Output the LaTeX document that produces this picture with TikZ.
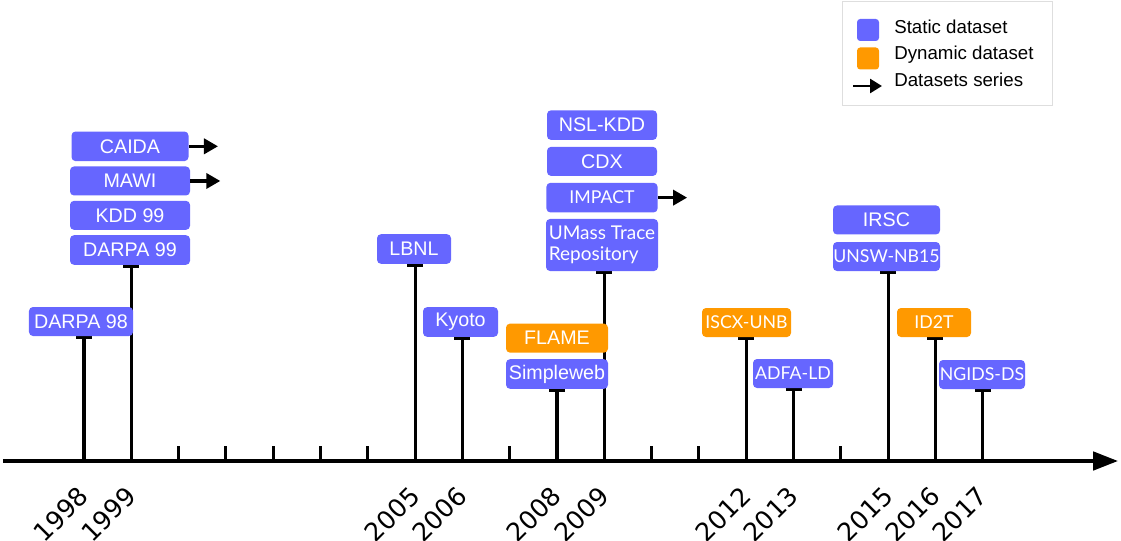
\documentclass[tikz,border=0pt]{standalone}
\usepackage{fontspec}
\setmainfont{Liberation Sans}
\newfontfamily\latofont{Lato}
\newfontfamily\yearfont{DejaVu Sans}
\usepackage{tikz}
\usetikzlibrary{positioning,arrows.meta,backgrounds}
\definecolor{staticblue}{HTML}{6666FF}
\definecolor{dynorange}{HTML}{FF9900}

\begin{document}
\begin{tikzpicture}[
  ds/.style={fill=staticblue, text=white, rounded corners=0.1cm, inner sep=0pt,
    minimum height=0.74cm, font=\fontsize{14}{15}\selectfont},
  dyn/.style={ds, fill=dynorange},
  lato/.style={font=\latofont\fontsize{12.6}{15}\selectfont},
  stem/.style={line width=2.2pt, -{Bar[width=0.4cm]}},
  minortick/.style={line width=2.2pt},
  series/.style={line width=2.2pt, -{Triangle[length=0.35cm,width=0.38cm]}},
  yearlbl/.style={font=\yearfont\fontsize{18}{20}\selectfont, rotate=45, anchor=east, inner sep=0pt},
  legtext/.style={font=\fontsize{13.3}{15}\selectfont, inner sep=0pt, anchor=base west},
  legsq/.style={minimum size=0.55cm, inner sep=0pt, rounded corners=0.08cm}
]
\useasboundingbox (0,0) rectangle (28.025,13.5);
% time axis with one slot per year
\coordinate (axstart) at (0.075,1.975);
\coordinate (axend) at (27.95,1.975);
\draw[line width=2.6pt, -{Triangle[length=0.625cm,width=0.46cm]}] (axstart) -- (axend);
\foreach \yr in {1998,...,2017}
  \coordinate (y\yr) at ({2.1+(\yr-1998)*1.1825},1.975);
\foreach \yr in {2000,2001,2002,2003,2004,2007,2010,2011,2014}
  \draw[minortick] (y\yr) -- ++(0,0.375);
\foreach \yr in {1998,1999,2005,2006,2008,2009,2012,2013,2015,2016,2017}
  \node[yearlbl] (lbl\yr) at ([xshift=0cm,yshift=-0.76cm]y\yr) {\yr};

% datasets
\node[ds, minimum width=2.6cm, minimum height=0.725cm] (darpa98) at (2.025,5.4625) {DARPA 98};
\node[ds, minimum width=3.0cm] (darpa99) at (3.25,7.25) {DARPA 99};
\node[ds, minimum width=3.0cm, minimum height=0.725cm, above=0.12cm of darpa99] (kdd99) {KDD 99};
\node[ds, minimum width=3.0cm, minimum height=0.725cm, above=0.12cm of kdd99] (mawi) {MAWI};
\node[ds, minimum width=2.925cm, above=0.12cm of mawi] (caida) {CAIDA};
\node[ds, minimum width=1.85cm] (lbnl) at (10.35,7.275) {LBNL};
\node[ds, minimum width=1.875cm] (kyoto) at (11.5125,5.45) {Kyoto};
\node[ds, minimum width=2.55cm] (simpleweb) at (13.925,4.15) {Simpleweb};
\node[dyn, minimum width=2.55cm, minimum height=0.725cm, above=0.15cm of simpleweb] (flame) {FLAME};
\node[ds, lato, font=\latofont\fontsize{13.5}{15}\selectfont, minimum width=2.8cm, minimum height=1.3cm, align=left] (umass) at (15.05,7.375) {UMass Trace\\Repository};
\node[ds, lato, minimum width=2.78cm, above=0.15cm of umass] (impact) {IMPACT};
\node[ds, minimum width=2.75cm, minimum height=0.725cm, above=0.16cm of impact] (cdx) {CDX};
\node[ds, minimum width=2.75cm, above=0.16cm of cdx] (nslkdd) {NSL-KDD};
\node[dyn, lato, minimum width=2.225cm, minimum height=0.725cm] (iscx) at (18.6625,5.4375) {ISCX-UNB};
\node[ds, lato, minimum width=2.0cm, minimum height=0.725cm] (adfa) at (19.825,4.1625) {ADFA-LD};
\node[ds, lato, minimum width=2.675cm, minimum height=0.725cm] (unsw) at (22.1625,7.0875) {UNSW-NB15};
\node[ds, minimum width=2.675cm, minimum height=0.725cm, above=0.175cm of unsw] (irsc) {IRSC};
\node[dyn, lato, minimum width=1.85cm, minimum height=0.725cm] (idtwo) at (23.35,5.4375) {ID2T};
\node[ds, lato, minimum width=2.15cm, minimum height=0.725cm] (ngids) at (24.55,4.1375) {NGIDS-DS};

% stems from the axis up to each dataset
\begin{scope}[on background layer]
\foreach \yr/\dsname in {1998/darpa98,1999/darpa99,2005/lbnl,2006/kyoto,2008/simpleweb,2009/umass,2012/iscx,2013/adfa,2015/unsw,2016/idtwo,2017/ngids}
  \draw[stem] (y\yr) -- (y\yr |- \dsname.south);
\end{scope}

% series arrows
\coordinate[right=0.73cm of caida.east] (caidanext);
\coordinate[right=0.75cm of mawi.east] (mawinext);
\coordinate[right=0.73cm of impact.east] (impactnext);
\draw[series] (caida.east) -- (caidanext);
\draw[series] (mawi.east) -- (mawinext);
\draw[series] (impact.east) -- (impactnext);

% legend
\node[draw=black!13, line width=0.7pt, minimum width=5.25cm, minimum height=2.6cm, inner sep=0pt] (legend) at (23.675,12.175) {};
\node[legsq, fill=staticblue] (sqstatic) at (21.7,12.75) {};
\node[legsq, fill=dynorange] (sqdyn) at (21.7,12.0375) {};
\coordinate (legarrs) at (21.325,11.35);
\coordinate (legarre) at (22.05,11.35);
\draw[line width=1.9pt, -{Triangle[length=0.3cm,width=0.35cm]}] (legarrs) -- (legarre);
\node[legtext] (txstatic) at (22.35,12.667) {Static dataset};
\node[legtext] (txdyn) at (22.35,12.0) {Dynamic dataset};
\node[legtext] (txseries) at (22.35,11.333) {Datasets series};
\end{tikzpicture}
\end{document}
